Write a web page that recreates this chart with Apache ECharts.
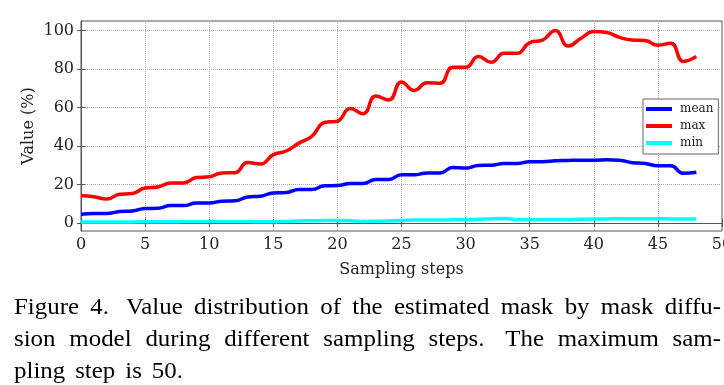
<!DOCTYPE html>
<html><head><meta charset="utf-8">
<script src="https://cdn.jsdelivr.net/npm/echarts@6/dist/echarts.min.js"></script>
<style>html,body{margin:0;padding:0;background:#fff}#c{width:724px;height:385px}</style>
</head><body><div id="c"></div>
<script>
const steps = [0,1,2,3,4,5,6,7,8,9,10,11,12,13,14,15,16,17,18,19,20,21,22,23,24,25,26,27,28,29,30,31,32,33,34,35,36,37,38,39,40,41,42,43,44,45,46,47,48];
const meanVals = [4.5,4.9,4.9,5.9,6.2,7.5,7.6,9.0,9.0,10.4,10.4,11.3,11.5,13.5,13.9,15.6,15.8,17.4,17.4,19.3,19.4,20.5,20.5,22.6,22.6,25.0,25.0,26.0,26.0,28.8,28.5,29.9,30.0,30.9,30.9,31.8,31.8,32.3,32.5,32.6,32.6,32.8,32.6,31.3,30.9,29.7,29.7,25.8,26.3];
const maxVals = [14.1,13.6,12.4,14.9,15.3,18.2,18.7,20.8,20.8,23.6,24.0,26.0,26.1,31.4,30.6,35.5,37.4,41.5,45.0,52.2,52.9,59.5,56.8,66.0,63.9,73.3,68.9,72.9,72.6,80.9,80.9,86.5,83.5,88.2,88.2,93.8,95.1,100.0,92.0,96.0,99.5,99.0,96.5,95.1,94.8,92.4,93.4,84.0,86.5];
const minVals = [0.5,0.5,0.5,0.5,0.5,0.6,0.6,0.6,0.7,0.7,0.7,0.7,0.7,0.7,0.6,0.6,0.8,1.0,1.1,1.2,1.2,1.1,0.8,0.9,1.0,1.2,1.5,1.5,1.5,1.6,1.6,1.9,2.2,2.3,1.7,1.6,1.6,1.7,1.7,1.9,2.0,2.1,2.2,2.2,2.2,2.2,2.1,2.1,2.1];
const yTicks = [0,20,40,60,80,100];
const seriesNames = ['mean','max','min'];
const seriesColors = ['#0000ff','#ff0000','#00ffff'];
const captionLines = [
  'Figure 4. Value distribution of the estimated mask by mask diffu-',
  'sion model during different sampling steps. The maximum sam-',
  'pling step is 50.'
];

const serif = 'DejaVu Serif';
const chart = echarts.init(document.getElementById('c'), null, {renderer:'canvas'});
const pair = arr => steps.map((s,i)=>[s, arr[i]]);
const frameLine = {show:true, lineStyle:{color:'#555', width:1}};
const tick = {show:true, inside:true, length:4, lineStyle:{color:'#555'}};
const yTick = Object.assign({}, tick, {customValues: yTicks});

// caption layout (justified like the source text)
const capFont = '23.5px "Liberation Serif"';
const mctx = document.createElement('canvas').getContext('2d');
mctx.font = capFont;
const sx = 1.06;
const capLeft = 14;
const capRights = [721, 721, 183];
const baseY = [295.5, 327.7, 359.9];
const capGraphics = [];
captionLines.forEach((line, li) => {
  const words = line.split(' ');
  const widths = words.map(w => mctx.measureText(w).width * sx);
  const weights = words.slice(0, -1).map(w => /\.$/.test(w) ? 1.5 : 1);
  const total = widths.reduce((a,b)=>a+b,0);
  const gapUnit = (capRights[li] - capLeft - total) / weights.reduce((a,b)=>a+b,0);
  let x = capLeft;
  words.forEach((w, wi) => {
    capGraphics.push({type:'text', x:x, y:baseY[li], scaleX:sx, scaleY:1,
      style:{text:w, font:capFont, fill:'#000', verticalAlign:'top'}});
    x += widths[wi] + (wi < weights.length ? gapUnit * weights[wi] : 0);
  });
});

chart.setOption({
  animation:false,
  backgroundColor:'#fff',
  grid:{left:81, right:2, top:21, bottom:154, containLabel:false, outerBoundsMode:'none',
        show:true, borderColor:'#555', borderWidth:1, backgroundColor:'transparent'},
  xAxis:[
    {type:'value', min:0, max:50, interval:5, position:'bottom',
     axisLine:frameLine, axisTick:tick,
     axisLabel:{fontFamily:serif, fontSize:16, color:'#222', margin:6, alignMinLabel:'center', alignMaxLabel:'center'},
     splitLine:{show:true, lineStyle:{type:'dotted', color:'#aaa', width:1}},
     name:'Sampling steps', nameLocation:'middle', nameGap:31, nameMoveOverlap:false,
     nameTextStyle:{fontFamily:serif, fontSize:16, color:'#222'}},
    {type:'value', min:0, max:50, interval:5, position:'top',
     axisLine:frameLine, axisTick:tick, axisLabel:{show:false}, splitLine:{show:false}}
  ],
  yAxis:[
    {type:'value', min:-4.2, max:105, position:'left',
     axisLine:frameLine, axisTick:yTick,
     axisLabel:{customValues:yTicks, fontFamily:serif, fontSize:16, color:'#222', margin:7},
     splitLine:{show:true, lineStyle:{type:'dotted', color:'#aaa', width:1}},
     name:'Value (%)', nameLocation:'middle', nameGap:44, nameRotate:90, nameMoveOverlap:false,
     nameTextStyle:{fontFamily:serif, fontSize:16, color:'#222'}},
    {type:'value', min:-4.2, max:105, position:'right',
     axisLine:frameLine, axisTick:yTick, axisLabel:{show:false, customValues:yTicks}, splitLine:{show:false}}
  ],
  legend:{
    orient:'vertical', left:643, top:99, data:seriesNames,
    icon:'rect', itemWidth:26, itemHeight:4, itemGap:3,
    padding:[3,5,4,3],
    backgroundColor:'#fff', borderColor:'#666', borderWidth:1, borderRadius:0,
    textStyle:{fontFamily:serif, fontSize:12, color:'#222', lineHeight:14, padding:[0,0,0,3]}
  },
  series:[
    {name:seriesNames[0], type:'line', data:pair(meanVals), smooth:0.5, symbol:'none', color:seriesColors[0], lineStyle:{width:3.5, color:seriesColors[0]}, z:3},
    {name:seriesNames[1], type:'line', data:pair(maxVals), smooth:0.5, symbol:'none', color:seriesColors[1], lineStyle:{width:3.5, color:seriesColors[1]}, z:3},
    {name:seriesNames[2], type:'line', data:pair(minVals), smooth:0.5, symbol:'none', color:seriesColors[2], lineStyle:{width:3.5, color:seriesColors[2]}, z:3}
  ],
  graphic: capGraphics
});
</script></body></html>
